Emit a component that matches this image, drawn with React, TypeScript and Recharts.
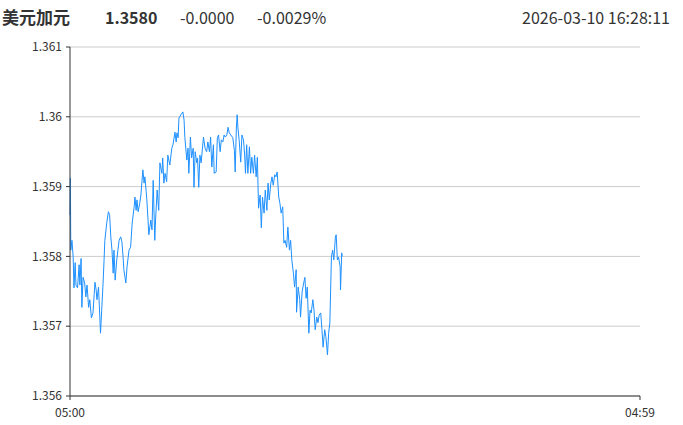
import { LineChart, Line, XAxis, YAxis, CartesianGrid } from 'recharts'

const TITLE = '美元加元'
const LAST = '1.3580'
const CHANGE = '-0.0000'
const CHANGE_PCT = '-0.0029%'
const STAMP = '2026-03-10 16:28:11'

const yTicks = [1.356, 1.357, 1.358, 1.359, 1.36, 1.361]
const xTickLabels = ['05:00', '04:59']

const times = [
  '05:00', '05:01', '05:02', '05:05', '05:08', '05:10', '05:13', '05:15', '05:19', '05:23',
  '05:25', '05:28', '05:30', '05:33', '05:37', '05:40', '05:43', '05:47', '05:50', '05:54',
  '05:58', '06:01', '06:03', '06:06', '06:08', '06:12', '06:14', '06:17', '06:20', '06:23',
  '06:26', '06:28', '06:33', '06:37', '06:40', '06:43', '06:46', '06:49', '06:51', '06:54',
  '06:58', '07:01', '07:04', '07:08', '07:11', '07:14', '07:16', '07:21', '07:24', '07:29',
  '07:33', '07:37', '07:42', '07:44', '07:47', '07:49', '07:52', '07:56', '07:59', '08:04',
  '08:07', '08:09', '08:12', '08:14', '08:17', '08:19', '08:24', '08:27', '08:30', '08:34',
  '08:36', '08:40', '08:44', '08:47', '08:52', '08:54', '08:57', '09:00', '09:04', '09:07',
  '09:12', '09:17', '09:20', '09:25', '09:28', '09:30', '09:33', '09:35', '09:40', '09:45',
  '09:48', '09:50', '09:55', '09:58', '10:00', '10:04', '10:07', '10:11', '10:13', '10:16',
  '10:20', '10:22', '10:25', '10:28', '10:31', '10:37', '10:41', '10:45', '10:48', '10:52',
  '10:55', '10:58', '11:02', '11:04', '11:09', '11:12', '11:15', '11:19', '11:22', '11:26',
  '11:29', '11:32', '11:36', '11:39', '11:42', '11:46', '11:51', '11:55', '11:57', '12:00',
  '12:02', '12:04', '12:07', '12:11', '12:14', '12:18', '12:21', '12:23', '12:26', '12:29',
  '12:33', '12:36', '12:39', '12:43', '12:46', '12:50', '12:53', '12:56', '13:00', '13:03',
  '13:06', '13:10', '13:13', '13:17', '13:20', '13:23', '13:27', '13:30', '13:33', '13:37',
  '13:40', '13:43', '13:47', '13:50', '13:53', '13:57', '14:00', '14:03', '14:07', '14:10',
  '14:14', '14:17', '14:20', '14:24', '14:27', '14:31', '14:32', '14:36', '14:40', '14:42',
  '14:46', '14:49', '14:53', '14:56', '14:59', '15:03', '15:06', '15:09', '15:13', '15:16',
  '15:19', '15:23', '15:26', '15:29', '15:33', '15:36', '15:39', '15:43', '15:46', '15:50',
  '15:53', '15:56', '16:00', '16:03', '16:06', '16:10', '16:12', '16:15', '16:18', '16:22',
  '16:23', '16:26', '16:27',
]

const prices = [
  1.35859, 1.35912, 1.35809, 1.35823, 1.35799, 1.35755, 1.35791, 1.35759, 1.35755, 1.35788,
  1.35759, 1.35797, 1.35727, 1.3577, 1.35762, 1.35742, 1.35759, 1.35727, 1.35738, 1.35712,
  1.35719, 1.35745, 1.35763, 1.35752, 1.35738, 1.35756, 1.3573, 1.3569, 1.35723, 1.35756,
  1.35795, 1.35823, 1.35849, 1.35864, 1.35859, 1.35828, 1.35809, 1.35776, 1.35809, 1.35766,
  1.35795, 1.35809, 1.35823, 1.35828, 1.35821, 1.35799, 1.35781, 1.35762, 1.35785, 1.35809,
  1.35813, 1.35848, 1.35871, 1.35885, 1.35866, 1.35881, 1.35864, 1.35876, 1.35888, 1.35924,
  1.35905, 1.35914, 1.35895, 1.35881, 1.35852, 1.35831, 1.35852, 1.35838, 1.35909, 1.35823,
  1.35852, 1.35895, 1.35866, 1.35934, 1.35919, 1.35941, 1.35905, 1.35919, 1.35907, 1.35945,
  1.35931, 1.35955, 1.3596, 1.35978, 1.35964, 1.35977, 1.3597, 1.35998, 1.36003, 1.36007,
  1.35995, 1.3597, 1.35938, 1.35955, 1.35919, 1.35971, 1.35941, 1.35955, 1.35899, 1.3595,
  1.35934, 1.35941, 1.35899, 1.35945, 1.35934, 1.35971, 1.35955, 1.3595, 1.35964, 1.3595,
  1.35971, 1.35928, 1.3596, 1.35919, 1.35921, 1.3597, 1.35974, 1.3595, 1.35967, 1.35964,
  1.35974, 1.35971, 1.35974, 1.35985, 1.35977, 1.35974, 1.3597, 1.35952, 1.35921, 1.35984,
  1.36003, 1.35984, 1.35967, 1.35935, 1.35974, 1.35967, 1.35945, 1.35919, 1.3596, 1.35919,
  1.35957, 1.35919, 1.35942, 1.35919, 1.35945, 1.35914, 1.35942, 1.35869, 1.35888, 1.35841,
  1.35885, 1.35862, 1.35895, 1.35866, 1.35905, 1.35881, 1.35905, 1.35914, 1.35902, 1.35917,
  1.35914, 1.35921, 1.35885, 1.35876, 1.35862, 1.35871, 1.35819, 1.35823, 1.35813, 1.35842,
  1.35809, 1.35823, 1.35795, 1.35776, 1.35756, 1.35781, 1.3572, 1.35756, 1.35738, 1.35713,
  1.35749, 1.35759, 1.3577, 1.3574, 1.35756, 1.3569, 1.35723, 1.35719, 1.35738, 1.35723,
  1.35695, 1.35713, 1.35705, 1.35716, 1.35719, 1.35695, 1.3567, 1.35695, 1.35685, 1.35659,
  1.3569, 1.35705, 1.35799, 1.35809, 1.35795, 1.35828, 1.35831, 1.35795, 1.35799, 1.35785,
  1.35752, 1.35805, 1.358,
]

// minutes since the 05:00 session open (wraps past midnight)
function sessionMin(t: string) {
  const [h, m] = t.split(':').map(Number)
  return (((h - 5) * 60 + m) + 1440) % 1440
}

const data = times.map((t, i) => ({ m: sessionMin(t), price: prices[i] }))
const xTicks = xTickLabels.map(sessionMin)

const FONT = '"Noto Sans CJK SC", "Open Sans", sans-serif'
const TXT = '#333'

export default function App() {
  return (
    <div style={{ position: 'relative', width: 683, height: 425, background: '#fff', fontFamily: FONT, color: TXT }}>
      <style>{'body{margin:0}'}</style>
      <div style={{ position: 'absolute', left: 2, top: 4, fontSize: 17, fontWeight: 700, lineHeight: '26px' }}>{TITLE}</div>
      <div style={{ position: 'absolute', left: 105, top: 5, fontSize: 16, fontWeight: 700, lineHeight: '24px' }}>{LAST}</div>
      <div style={{ position: 'absolute', left: 180, top: 5, fontSize: 16, lineHeight: '24px' }}>{CHANGE}</div>
      <div style={{ position: 'absolute', left: 257, top: 5, fontSize: 16, lineHeight: '24px' }}>{CHANGE_PCT}</div>
      <div style={{ position: 'absolute', right: 13, top: 5, fontSize: 16, lineHeight: '24px' }}>{STAMP}</div>

      <LineChart
        width={683}
        height={425}
        data={data}
        margin={{ top: 47, right: 43, bottom: 0, left: 0 }}
        style={{ position: 'absolute', left: 0, top: 0 }}
      >
        <CartesianGrid vertical={false} stroke="#ccc" />
        <XAxis
          dataKey="m"
          type="number"
          domain={[0, 1439]}
          ticks={xTicks}
          tickFormatter={(v: number) => xTickLabels[xTicks.indexOf(v)] ?? ''}
          height={29}
          stroke="#333"
          tickSize={4}
          tickMargin={8}
          tick={{ fontSize: 12, fill: '#333', fontFamily: FONT }}
        />
        <YAxis
          type="number"
          domain={[1.356, 1.361]}
          ticks={yTicks}
          tickFormatter={(v: number) => String(v)}
          width={70}
          stroke="#333"
          tickSize={4}
          tickMargin={4}
          tick={{ fontSize: 12, fill: '#333', fontFamily: FONT }}
        />
        <Line
          type="linear"
          dataKey="price"
          stroke="#1e90ff"
          strokeWidth={1}
          dot={false}
          isAnimationActive={false}
        />
      </LineChart>
    </div>
  )
}
